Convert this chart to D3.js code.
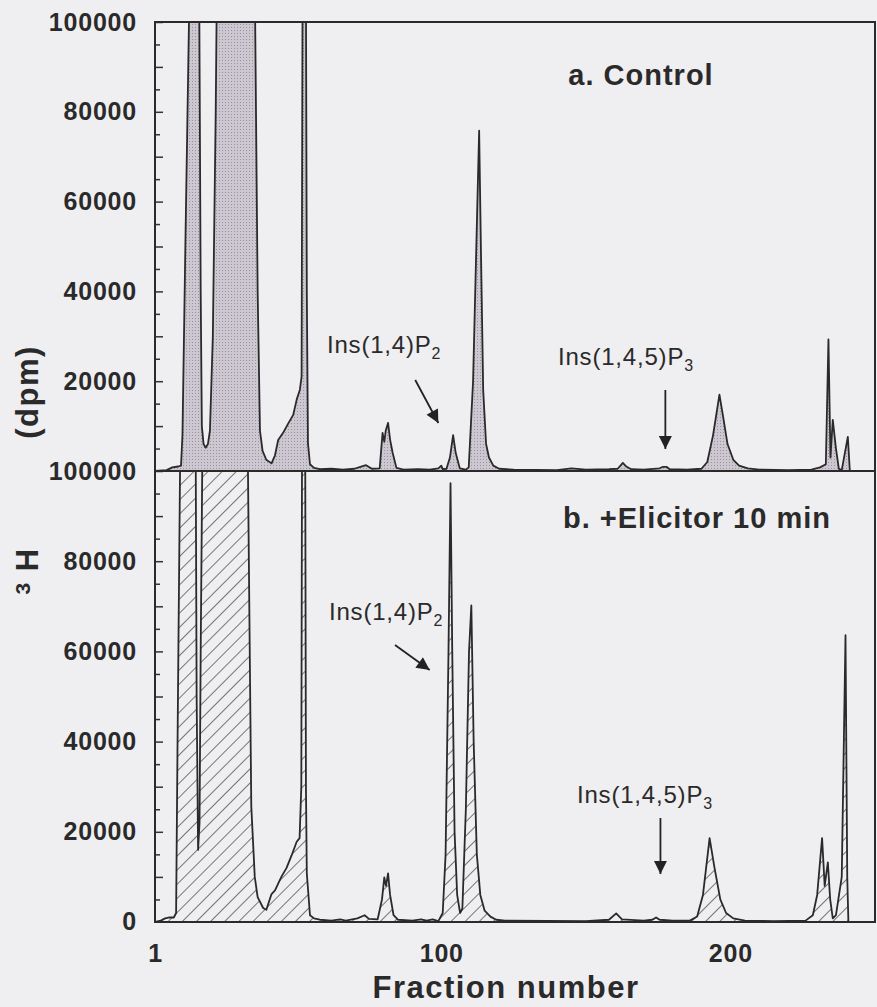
<!DOCTYPE html>
<html>
<head>
<meta charset="utf-8">
<script src="https://cdn.jsdelivr.net/npm/d3@7"></script>
<style>
  body { margin: 0; background: #efeef0; }
  #chart text { font-family: "Liberation Sans", Arial, Helvetica, sans-serif; fill: #2a2a2a; }
  .tick-label { font-size: 25px; font-weight: bold; letter-spacing: 0.8px; }
  .panel-title { font-size: 29px; font-weight: bold; letter-spacing: 1px; }
  .note { font-size: 24px; letter-spacing: 0.8px; }
  .axis-title { font-size: 31px; font-weight: bold; letter-spacing: 1.5px; }
</style>
</head>
<body>
<div id="chart"></div>
<script>
// Fraction numbers / dpm
const controlFractions = [1, 5, 7, 9, 10, 10.5, 11.5, 13, 14, 15.5, 16.3, 16.8, 17.2, 17.8, 18.5, 19.3, 20, 21, 22, 23,
  34, 35.5, 36.5, 37.3, 38.2, 39.5, 41.3, 42.5, 43.6, 45.3, 47, 48.8, 50, 51.1, 51.7, 52.2, 53, 53.5, 53.9, 54.6,
  56, 58, 62, 66, 70, 72, 74, 76, 78.7, 79.7, 80.3, 80.8, 81.6, 82.3, 83.2, 84.5, 87, 92, 96, 99, 100, 100.5,
  101.8, 103, 104.1, 105, 106.4, 108.5, 109.5, 111, 112.5, 113.1, 113.7, 114.5, 115.5, 116.5, 118, 120, 125,
  140, 145, 150, 158, 161, 162.8, 164, 165.7, 170, 175.5, 176.5, 178, 179, 185, 190, 192, 194, 196.2, 197.5,
  199, 201, 203, 206, 210, 220, 228, 231, 233, 233.9, 234.6, 235.4, 236.5, 237.5, 238.5, 240.6, 241.3];
const controlValues = [0, 200, 800, 1000, 1200, 8000, 50000, 110000, 150000, 150000, 105000, 40000, 10000, 6000, 5200, 6000, 9000, 30000, 80000, 150000,
  150000, 110000, 40000, 9000, 4500, 2500, 1700, 3500, 6900, 8500, 10500, 12500, 15900, 18100, 21000, 150000, 150000, 40000, 6200, 1500,
  700, 400, 500, 300, 500, 900, 1300, 500, 600, 8500, 6500, 9000, 10700, 7000, 4000, 700, 300, 400, 300, 600, 1200, 400,
  500, 3000, 8000, 4000, 600, 300, 800, 20000, 60000, 75800, 50000, 18000, 6000, 3000, 1200, 500, 300,
  200, 600, 300, 400, 500, 1800, 1000, 400, 300, 600, 900, 900, 400, 300, 500, 2000, 8000, 17000, 12000,
  6000, 2500, 1200, 600, 300, 200, 300, 800, 1500, 29300, 3000, 11400, 5000, 500, 200, 7600, 0];

const elicitorFractions = [1, 3, 4.5, 6, 7.5, 8.3, 8.8, 9.8, 11, 14.8, 15.4, 15.9, 16.4, 16.8, 17.6, 18.5,
  32.5, 33, 34.3, 35.5, 36.5, 38.4, 39.5, 41.3, 42.5, 44.7, 46.5, 48.2, 50, 51, 51.6, 52, 52.8, 53.2, 53.5, 54.6,
  56, 58, 62, 65, 67, 71, 73.5, 75, 78, 79.5, 80.3, 80.9, 81.6, 82.3, 83.5, 85, 90, 93, 95, 97, 99,
  100.5, 101.5, 102.5, 103.2, 103.8, 104.6, 105.5, 106.5, 107.3, 108.5, 109.6, 110.4, 111.2, 112.3, 113.5, 115, 117, 119, 122,
  150, 158, 160.5, 162.5, 170, 173, 174.3, 175.5, 180, 186, 188.5, 190.5, 192.8, 194.5, 196.5, 198.5, 201, 205, 215,
  226, 228.5, 230, 231.7, 232.6, 233.7, 234.5, 235.4, 236.5, 238.5, 239.8, 240.4, 240.8];
const elicitorValues = [0, 300, 800, 1000, 1000, 2000, 40000, 110000, 150000, 150000, 50000, 16000, 22000, 60000, 120000, 150000,
  150000, 110000, 25600, 10000, 5500, 3100, 2700, 6200, 7000, 10000, 12000, 14700, 17800, 18600, 30000, 150000, 150000, 30000, 10800, 1500,
  800, 500, 300, 600, 300, 800, 1500, 700, 600, 5000, 9900, 8000, 10800, 6000, 1500, 500, 300, 600, 300, 600, 200,
  2000, 15000, 60000, 97300, 60000, 20000, 6000, 2000, 3000, 25000, 60000, 70200, 40000, 15000, 6000, 2500, 1200, 500, 300,
  200, 500, 1900, 600, 300, 500, 1000, 500, 300, 300, 1200, 6000, 18600, 12000, 5000, 2000, 800, 300, 200,
  300, 1500, 6000, 18600, 8000, 13200, 5000, 800, 1500, 10000, 63600, 10000, 0];

const topTickLabels = [20000, 40000, 60000, 80000, 100000];
const bottomTickLabels = [0, 20000, 40000, 60000, 80000, 100000];
const xTickLabels = [1, 100, 200];

const width = 877, height = 1007;
const left = 155, right = 875;
const topY0 = 22, midY = 471, botY1 = 922;

const svg = d3.select("#chart").append("svg")
    .attr("width", width)
    .attr("height", height);

svg.append("rect").attr("width", width).attr("height", height).attr("fill", "#efeef0");

const defs = svg.append("defs");

// stippled grey fill for the control trace
const stipple = defs.append("pattern")
    .attr("id", "stipple")
    .attr("patternUnits", "userSpaceOnUse")
    .attr("width", 3).attr("height", 3);
stipple.append("rect").attr("width", 3).attr("height", 3).attr("fill", "#cdc7d2");
stipple.append("rect").attr("width", 1).attr("height", 1).attr("fill", "#98929f");

// diagonal hatch for the elicitor trace
const hatch = defs.append("pattern")
    .attr("id", "hatch")
    .attr("patternUnits", "userSpaceOnUse")
    .attr("width", 10).attr("height", 10)
    .attr("patternTransform", "rotate(45)");
hatch.append("line")
    .attr("x1", 0).attr("y1", 0).attr("x2", 0).attr("y2", 10)
    .attr("stroke", "#333").attr("stroke-width", 1.3);

defs.append("marker")
    .attr("id", "arrow")
    .attr("viewBox", "0 0 10 10")
    .attr("refX", 10).attr("refY", 5)
    .attr("markerUnits", "userSpaceOnUse")
    .attr("markerWidth", 17).attr("markerHeight", 13)
    .attr("orient", "auto")
    .append("path")
    .attr("d", "M0,0 L10,5 L0,10 Z")
    .attr("fill", "#222");

const x = d3.scaleLinear().domain([1, 250]).range([left, right]);
const yTop = d3.scaleLinear().domain([0, 100000]).range([midY, topY0]);
const yBot = d3.scaleLinear().domain([0, 100000]).range([botY1, midY]);

function drawPanel(id, fracs, vals, y, fill, labels) {
    const data = fracs.map((f, i) => ({ f: f, v: vals[i] }));
    const y0 = y.range()[0], y1 = y.range()[1];

    defs.append("clipPath").attr("id", "clip-" + id)
        .append("rect")
        .attr("x", left).attr("y", y1)
        .attr("width", right - left).attr("height", y0 - y1);

    const g = svg.append("g").attr("clip-path", "url(#clip-" + id + ")");

    g.append("path")
        .datum(data)
        .attr("fill", fill)
        .attr("d", d3.area().x(d => x(d.f)).y0(y(0)).y1(d => y(d.v)));

    g.append("path")
        .datum(data)
        .attr("fill", "none")
        .attr("stroke", "#2a2a2a")
        .attr("stroke-width", 1.8)
        .attr("stroke-linejoin", "round")
        .attr("d", d3.line().x(d => x(d.f)).y(d => y(d.v)));

    // minor ticks every 5000, pointing inwards
    svg.append("g")
        .attr("transform", `translate(${left},0)`)
        .call(d3.axisLeft(y).tickValues(d3.range(5000, 100000, 10000)).tickSize(-5).tickFormat(""))
        .call(a => a.select(".domain").remove())
        .selectAll("line").attr("stroke", "#333").attr("stroke-width", 1.5);

    // major ticks every 10000, labels every 20000
    const major = svg.append("g")
        .attr("transform", `translate(${left},0)`)
        .call(d3.axisLeft(y).tickValues(d3.range(10000, 100001, 10000))
            .tickSize(-8).tickPadding(18)
            .tickFormat(d => labels.includes(d) ? d : ""));
    major.select(".domain").remove();
    major.selectAll("line").attr("stroke", "#333").attr("stroke-width", 1.5);
    major.selectAll("text").attr("class", "tick-label").attr("fill", "#2a2a2a");

    if (labels.includes(0)) {
        svg.append("text").attr("class", "tick-label")
            .attr("x", left - 18).attr("y", y(0)).attr("dy", "0.32em")
            .attr("text-anchor", "end").text("0");
    }

    svg.append("rect")
        .attr("x", left).attr("y", y1)
        .attr("width", right - left).attr("height", y0 - y1)
        .attr("fill", "none").attr("stroke", "#2a2a2a").attr("stroke-width", 2);
}

drawPanel("a", controlFractions, controlValues, yTop, "url(#stipple)", topTickLabels);
drawPanel("b", elicitorFractions, elicitorValues, yBot, "url(#hatch)", bottomTickLabels);

// x axis labels (no ticks on the original)
const xa = svg.append("g")
    .attr("transform", `translate(0,${botY1})`)
    .call(d3.axisBottom(x).tickValues(xTickLabels).tickSize(0).tickPadding(22));
xa.select(".domain").remove();
xa.selectAll("text").attr("class", "tick-label").attr("fill", "#2a2a2a");

svg.append("text").attr("class", "axis-title")
    .attr("x", 506).attr("y", 998).attr("text-anchor", "middle")
    .text("Fraction  number");

// y axis title, split like the original
svg.append("text").attr("class", "axis-title")
    .attr("transform", "translate(38,392) rotate(-90)")
    .attr("text-anchor", "middle")
    .text("(dpm)");
const yt = svg.append("text").attr("class", "axis-title")
    .attr("transform", "translate(38,571) rotate(-90)")
    .attr("text-anchor", "middle");
yt.append("tspan").attr("font-size", 21).attr("dy", -8).text("3");
yt.append("tspan").attr("dy", 8).text(" H");

// panel titles
svg.append("text").attr("class", "panel-title")
    .attr("x", 641).attr("y", 85).attr("text-anchor", "middle").text("a. Control");
svg.append("text").attr("class", "panel-title")
    .attr("x", 697).attr("y", 528).attr("text-anchor", "middle").text("b. +Elicitor 10 min");

// peak annotations
function note(tx, ty, name, sub, ax1, ay1, ax2, ay2) {
    const t = svg.append("text").attr("class", "note").attr("x", tx).attr("y", ty);
    t.append("tspan").text(name);
    t.append("tspan").attr("font-size", 16).attr("dy", 6).text(sub);
    svg.append("line")
        .attr("x1", ax1).attr("y1", ay1).attr("x2", ax2).attr("y2", ay2)
        .attr("stroke", "#222").attr("stroke-width", 1.8)
        .attr("marker-end", "url(#arrow)");
}

note(327, 353, "Ins(1,4)P", "2", x(91), 380, x(99), 423);
note(558, 365, "Ins(1,4,5)P", "3", x(177.5), 390, x(177.5), 449);
note(329, 620, "Ins(1,4)P", "2", x(84), 645, x(96), 670);
note(577, 803, "Ins(1,4,5)P", "3", x(175.8), 818, x(175.8), 874);
</script>
</body>
</html>
